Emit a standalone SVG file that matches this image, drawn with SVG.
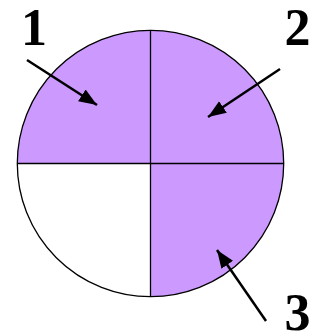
<svg xmlns="http://www.w3.org/2000/svg" width="321" height="335" viewBox="0 0 321 335">
<style>
.q{fill:#CC99FF;stroke:none}
.ln{stroke:#000;stroke-width:1.3;fill:none}
.ar{stroke:#000;stroke-width:2.5;fill:none}
.lb{font-family:"Liberation Serif",serif;font-weight:bold;font-size:52px;text-anchor:middle;fill:#000}
</style>
<defs>
<marker id="ah" markerUnits="userSpaceOnUse" markerWidth="20" markerHeight="16" refX="18" refY="7" orient="auto" viewBox="0 0 20 14">
<polygon points="0,0 18,7 0,14" fill="#000"/>
</marker>
</defs>
<rect width="321" height="335" fill="#fff"/>
<g id="pie">
<path class="q" d="M150.5,163.5 L17.3,163.5 A133.2,133.2 0 0 1 150.5,30.3 Z"/>
<path class="q" d="M150.5,163.5 L150.5,30.3 A133.2,133.2 0 0 1 283.7,163.5 Z"/>
<path class="q" d="M150.5,163.5 L283.7,163.5 A133.2,133.2 0 0 1 150.5,296.7 Z"/>
<circle class="ln" cx="150.5" cy="163.5" r="133.2"/>
<line class="ln" x1="150.5" y1="30.3" x2="150.5" y2="296.7"/>
<line class="ln" x1="17.3" y1="163.5" x2="283.7" y2="163.5"/>
</g>
<g id="label1"><text class="lb" x="34" y="45">1</text></g>
<g id="label2"><text class="lb" x="297.5" y="45">2</text></g>
<g id="label3"><text class="lb" x="297.5" y="330">3</text></g>
<g id="connectors">
<line class="ar" x1="27" y1="60" x2="97" y2="105" marker-end="url(#ah)"/>
<line class="ar" x1="280" y1="69" x2="208" y2="117" marker-end="url(#ah)"/>
<line class="ar" x1="266" y1="321" x2="217" y2="250" marker-end="url(#ah)"/>
</g>
</svg>
